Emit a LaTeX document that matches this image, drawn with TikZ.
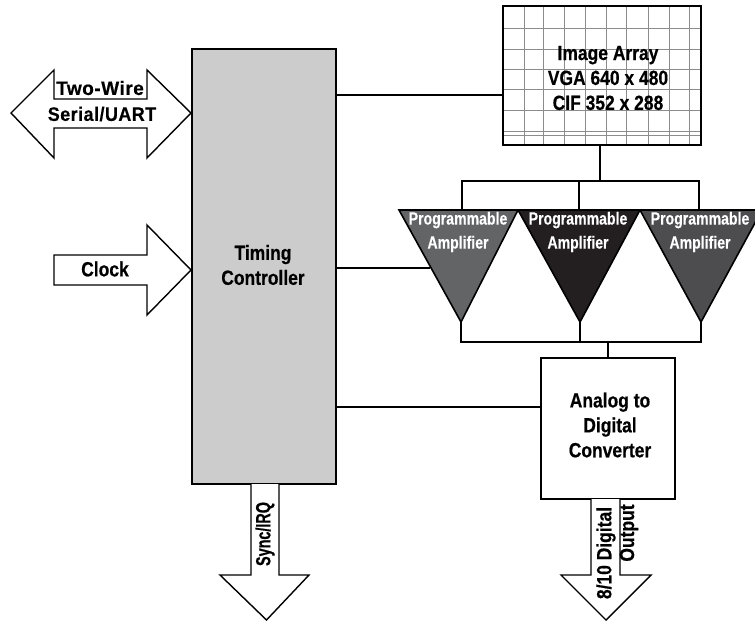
\documentclass[tikz,border=0pt]{standalone}
\usepackage{fontspec}
\setmainfont{Liberation Sans}[FakeStretch=0.85,BoldFeatures={FakeBold=0.45}]
\newfontfamily\narrowfont{Liberation Sans}[FakeStretch=0.80,BoldFeatures={FakeBold=0.35}]
\newfontfamily\syncfont{Liberation Sans}[FakeStretch=0.70,BoldFeatures={FakeBold=0.45}]
\newfontfamily\widefont{Liberation Sans}[FakeStretch=0.98,LetterSpace=2.5,BoldFeatures={FakeBold=0.35}]
\newfontfamily\serialfont{Liberation Sans}[FakeStretch=0.92,LetterSpace=2.5,BoldFeatures={FakeBold=0.35}]
\definecolor{boxgray}{HTML}{CCCCCC}
\definecolor{gridgray}{HTML}{8C8C8C}
\definecolor{ampA}{HTML}{636466}
\definecolor{ampB}{HTML}{231F20}
\definecolor{ampC}{HTML}{4D4D4F}
\tikzset{
  x=0.75pt,y=-0.75pt,
  wire/.style={line width=1.8pt,line join=miter},
  blockarrow/.style={draw,line width=1.05pt,fill=white,line join=miter},
  bigbox/.style={draw,line width=1.8pt,inner sep=0pt,outer sep=0pt},
  txt/.style={inner sep=0pt,outer sep=0pt,align=center,font=\bfseries\fontsize{15.4}{18.7}\selectfont},
  amptxt/.style={inner sep=0pt,outer sep=0pt,align=center,text=white,font=\narrowfont\bfseries\fontsize{13.2}{18}\selectfont},
  amp/.style={draw,line width=1.2pt,line join=miter},
  gridline/.style={draw=gridgray,line width=0.7pt}
}
\begin{document}
\begin{tikzpicture}
\useasboundingbox (0,0) rectangle (755,624);
\clip (0,0) rectangle (755,624);

% grid of the image array
\foreach \gx in {524,543,564,585,606,626,648,669,689}
  \draw[gridline] (\gx,6) -- (\gx,145);
\foreach \gy in {28,49,69,89,110,131,135}
  \draw[gridline] (503,\gy) -- (701,\gy);

% boxes
\node[bigbox,fill=boxgray,minimum width=144*0.75pt,minimum height=435*0.75pt] (timing) at (264,266.5) {};
\node[bigbox,minimum width=198*0.75pt,minimum height=139*0.75pt] (array) at (602,75.5) {};
\node[bigbox,line width=1.2pt,fill=white,minimum width=134*0.75pt,minimum height=141*0.75pt] (adc) at (608,428.5) {};

% ports
\coordinate (timingA) at (336,95);
\coordinate (timingB) at (336,268);
\coordinate (timingC) at (336,407);
\coordinate (arrayPort) at (503,95);
\coordinate (arrayOut) at (600,145);
\coordinate (busTop) at (600,181);
\coordinate (ampApex1) at (461,322);
\coordinate (ampApex2) at (580,322);
\coordinate (ampApex3) at (701,322);
\coordinate (ampTop1) at (462,210);
\coordinate (ampTop2) at (579,210);
\coordinate (ampTop3) at (699,210);
\coordinate (ampSide1) at (430,268);
\coordinate (busLow) at (608,342);
\coordinate (adcTop) at (608,358);
\coordinate (adcLeft) at (541,407);

% connectors
\draw[wire] (timingA) -- (arrayPort);
\draw[wire] (timingB) -- (ampSide1);
\draw[wire] (timingC) -- (adcLeft);
\draw[wire] (arrayOut) -- (busTop);
\draw[wire] (ampTop1) |- (busTop) -| (ampTop3);
\draw[wire] (ampTop2) -- (ampTop2 |- busTop);
\draw[wire] (ampApex1) |- (busLow) -| (ampApex3);
\draw[wire] (ampApex2) -- (ampApex2 |- busLow);
\draw[wire] (busLow) -- (adcTop);

% amplifiers
\draw[amp,fill=ampA] (399,210) -- (518,210) -- (ampApex1) -- cycle;
\draw[amp,fill=ampC] (640,210) -- (762,210) -- (ampApex3) -- cycle;
\draw[amp,fill=ampB] (518,210) -- (640,210) -- (ampApex2) -- cycle;
\draw[line width=1.8pt] (399,210) -- (762,210);

% block arrows
\draw[blockarrow] (11,113) -- (54,70) -- (54,99) -- (147,99) -- (147,70) -- (191,113)
  -- (147,158) -- (147,128) -- (54,128) -- (54,158) -- cycle;
\draw[blockarrow] (54,255) -- (147,255) -- (147,225) -- (191,270) -- (147,315)
  -- (147,285) -- (54,285) -- cycle;
\draw[blockarrow] (251,484) -- (251,575) -- (220,575) -- (266.5,620) -- (309,575)
  -- (279,575) -- (279,484);
\draw[blockarrow] (591,499) -- (591,575) -- (561,575) -- (606,620) -- (651,575)
  -- (620,575) -- (620,499);

% labels
\node[txt] (twowire) at (100,88) {\fontsize{14.6}{18}\selectfont\widefont\bfseries Two-Wire};
\node[txt] (serial) at (102,114) {\fontsize{14.6}{18}\selectfont\serialfont\bfseries Serial/UART};
\node[txt] (clock) at (105,269) {Clock};
\node[txt] (timinglabel) at (263,265) {Timing\\Controller};
\node[txt] (arraylabel) at (608,78) {Image Array\\VGA 640 x 480\\CIF 352 x 288};
\node[txt] (adclabel) at (610,425) {Analog to\\Digital\\Converter};
\node[amptxt] (amplabelA) at (458,232) {Programmable\\Amplifier};
\node[amptxt] (amplabelB) at (578,232) {Programmable\\Amplifier};
\node[amptxt] (amplabelC) at (700,232) {Programmable\\Amplifier};
\node[txt,rotate=90] (sync) at (265,534) {\syncfont\bfseries Sync/IRQ};
\node[txt,rotate=90] (digital) at (606,553) {8/10 Digital};
\node[txt,rotate=90] (output) at (629,533) {Output};
\end{tikzpicture}
\end{document}
